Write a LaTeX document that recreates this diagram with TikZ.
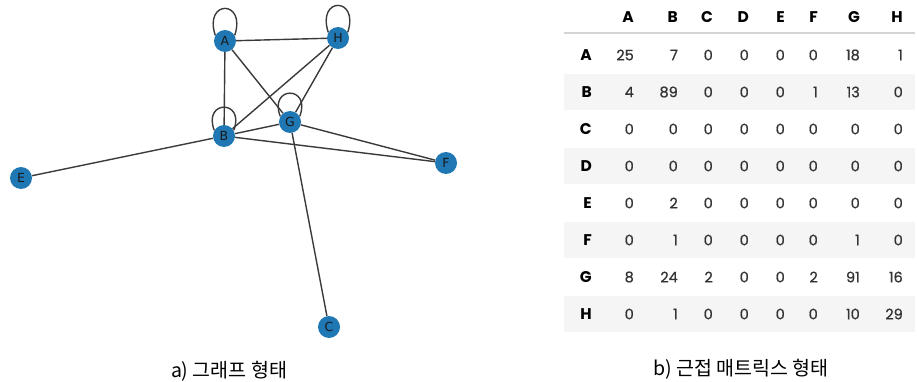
\documentclass[tikz,border=0pt]{standalone}
\usepackage{fontspec}
\setmainfont{Poppins}
\newfontfamily\tabfont{Poppins}[FakeBold=0.8]
\newfontfamily\hdfont{Poppins Bold}[FakeBold=1.2]
\newfontfamily\kr{Noto Sans CJK KR}
\newfontfamily\dv{DejaVu Sans}
\definecolor{nodeblue}{HTML}{1F77B4}
\definecolor{edgegray}{HTML}{3A3A3A}
\definecolor{stripe}{HTML}{F5F5F5}
\definecolor{rulegray}{HTML}{D4D4D4}
\begin{document}
\begin{tikzpicture}[x=1pt,y=1pt,
  vtx/.style={circle, fill=nodeblue, minimum size=22pt, inner sep=0pt, font=\dv\fontsize{12.5}{12.5}\selectfont, text=black!90},
  edg/.style={draw=edgegray, line width=1.4pt},
  hdr/.style={anchor=east, font=\bfseries\fontsize{15.5}{15.5}\selectfont, inner sep=0pt},
  cell/.style={anchor=east, font=\tabfont\fontsize{14.5}{14.5}\selectfont, text=black!80, inner sep=0pt},
  captxt/.style={font=\kr\fontsize{19.5}{19.5}\selectfont, inner sep=0pt}]
\useasboundingbox (0,0) rectangle (917,-382);

% graph nodes
\node[vtx] (A) at (225,-41) {A};
\node[vtx] (H) at (338,-38) {H};
\node[vtx] (G) at (290,-122) {G};
\node[vtx] (B) at (224,-136) {B};
\node[vtx] (E) at (21,-178) {E};
\node[vtx] (F) at (446,-163) {F};
\node[vtx] (C) at (329,-327) {C};

% edges
\draw[edg] (A) -- (H);
\draw[edg] (A) -- (B);
\draw[edg] (A) -- (G);
\draw[edg] (H) -- (B);
\draw[edg] (H) -- (G);
\draw[edg] (B) -- (G);
\draw[edg] (B) -- (E);
\draw[edg] (B) -- (F);
\draw[edg] (G) -- (F);
\draw[edg] (G) -- (C);
% self loops
\draw[edg] (A.150) .. controls +(-12,36) and +(12,36) .. (A.30);
\draw[edg] (H.150) .. controls +(-12,36) and +(12,36) .. (H.30);
\draw[edg] (G.150) .. controls +(-12,31) and +(12,31) .. (G.30);
\draw[edg] (B.150) .. controls +(-12,31) and +(12,31) .. (B.30);

% table background
\fill[stripe] (564,-74) rectangle (915,-110);
\fill[stripe] (564,-148) rectangle (915,-184);
\fill[stripe] (564,-222) rectangle (915,-258);
\fill[stripe] (564,-296) rectangle (915,-332);
\draw[rulegray, line width=1.3pt] (564,-33) -- (915,-33);

\def\colxs{{634,678,713,749,785,818,860,903}}
\foreach \lab [count=\j] in {A,B,C,D,E,F,G,H} {
  \pgfmathsetmacro\cx{\colxs[\j-1]}
  \node[hdr] (h\lab) at (\cx,-17) {\lab};
}
\foreach \rl/\vals [count=\i] in {A/{25,7,0,0,0,0,18,1},B/{4,89,0,0,0,1,13,0},C/{0,0,0,0,0,0,0,0},D/{0,0,0,0,0,0,0,0},E/{0,2,0,0,0,0,0,0},F/{0,1,0,0,0,0,1,0},G/{8,24,2,0,0,2,91,16},H/{0,1,0,0,0,0,10,29}} {
  \pgfmathsetmacro\ry{-55-37*(\i-1)}
  \node[hdr] (r\rl) at (592,\ry) {\rl};
  \foreach \v [count=\j] in \vals {
    \pgfmathsetmacro\cx{\colxs[\j-1]}
    \node[cell] (c\rl\j) at (\cx,\ry) {\v};
  }
}

% captions
\node[captxt] (capa) at (229,-371) {a) 그래프 형태};
\node[captxt] (capb) at (741,-369) {b) 근접 매트릭스 형태};
\end{tikzpicture}
\end{document}
